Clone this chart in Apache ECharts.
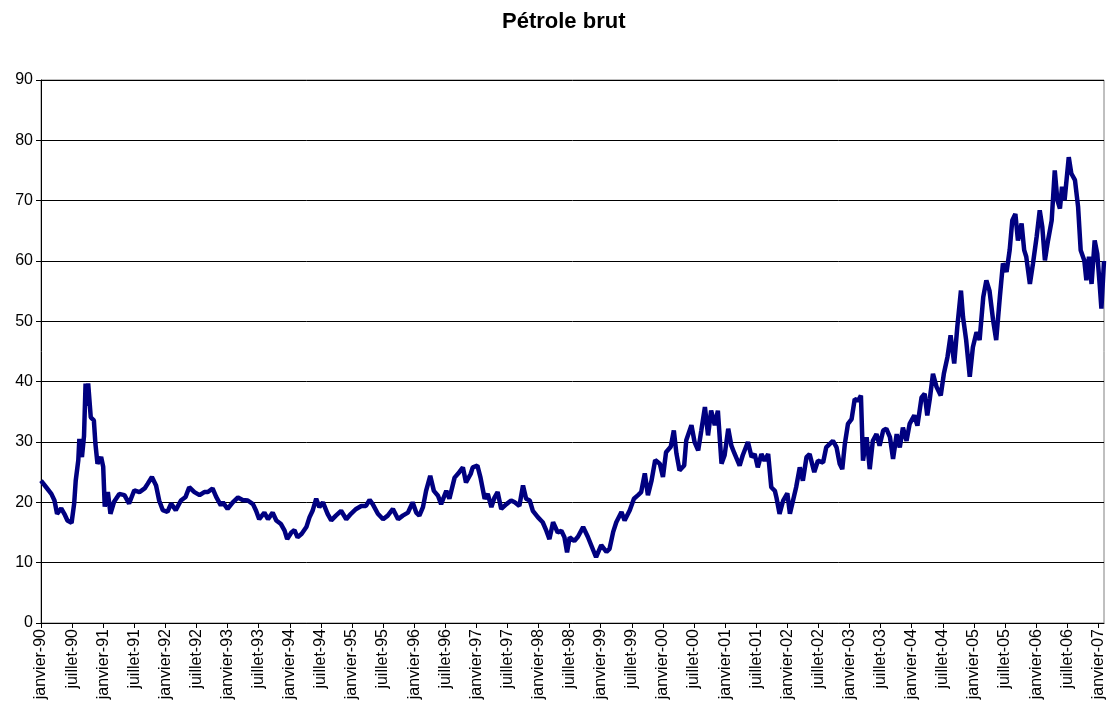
<!DOCTYPE html>
<html>
<head>
<meta charset="utf-8">
<script src="https://cdn.jsdelivr.net/npm/echarts@6/dist/echarts.min.js"></script>
<style>
html, body { margin: 0; padding: 0; background: #fff; }
#chart { width: 1107px; height: 711px; }
</style>
</head>
<body>
<div id="chart"></div>
<script>
// [month since janvier-90, price]
var p1990_92 = [[0,23.6],[1,22.5],[2,21.4],[2.6,20.3],[3.1,18.1],[3.9,19],[4.5,18.1],[5.1,17],[5.9,16.6],[6.4,19.8],[6.7,23.6],[7.2,27],[7.4,30.5],[7.9,27.5],[8.3,31],[8.6,39.7],[8.9,36],[9.1,39.7],[9.6,34.1],[10.2,33.6],[10.5,29.7],[10.9,26.4],[11.6,27.5],[12,25.9],[12.3,19.3],[12.9,21.7],[13.4,18.1],[14.1,20.1],[15.1,21.4],[16.1,21.2],[17,19.8],[18,22],[19,21.7],[20,22.3],[20.6,23.1],[21.4,24.2],[22.2,22.8],[22.8,20.3],[23.5,18.7],[24.4,18.4],[25.1,19.8],[26,18.7],[27,20.3],[27.9,20.9],[28.6,22.5],[29.6,21.7],[30.6,21.2],[31.5,21.7],[32.2,21.7],[33.1,22.3],[33.8,20.9],[34.7,19.5]];
var p1993_95 = [[35.1,20],[36,18.9],[37,20],[38,20.8],[38.9,20.4],[39.9,20.3],[40.9,19.7],[41.5,18.6],[42.1,17.2],[43.1,18.3],[43.8,17.2],[44.7,18.3],[45.4,17],[46.3,16.4],[47,15.3],[47.5,13.9],[48.3,15],[48.9,15.4],[49.5,14.2],[50.3,14.8],[51.2,15.9],[51.8,17.5],[52.4,18.6],[53.1,20.6],[53.7,19.2],[54.4,20],[55.3,18.1],[56,17],[56.9,17.8],[57.9,18.6],[58.9,17.2],[59.8,18.1],[60.8,18.9],[61.8,19.4],[62.7,19.4],[63.4,20.4],[64,19.7],[65,18.1],[66,17.2],[66.9,17.8],[67.9,18.9],[68.9,17.2],[69.8,17.8]];
var p1996_98 = [[70.8,18.3],[71.7,20],[72.4,18.3],[73,17.8],[73.7,19.2],[74.3,21.9],[75.1,24.4],[75.8,21.9],[76.6,21.1],[77.2,19.7],[78.2,21.9],[78.8,20.6],[79.8,24.1],[80.7,25],[81.4,25.8],[82,23.3],[82.9,24.7],[83.3,25.8],[84.2,26.1],[84.8,24.1],[85.6,20.6],[86.2,21.4],[86.9,19.2],[87.5,20.8],[88.1,21.7],[88.8,18.9],[89.8,19.7],[90.7,20.3],[91.4,20],[92.3,19.4],[93,22.8],[93.6,20.6],[94.3,20.3],[94.9,18.6],[95.9,17.5],[96.8,16.7],[97.5,15.3],[98.1,13.9],[98.8,16.7],[99.7,15],[100.4,15.3],[101,14.2],[101.5,11.7],[102,14.2],[102.9,13.6]];
var p1999_01 = [[103.6,14.3],[104.6,15.9],[105.5,14.3],[106.3,12.6],[107.1,10.9],[108.1,12.9],[109.1,11.8],[109.7,12.3],[110.4,15.1],[111,16.7],[112,18.4],[112.6,17],[113.6,18.7],[114.4,20.6],[115.2,21.2],[115.8,21.7],[116.5,24.8],[117.1,21.2],[117.8,23.6],[118.5,27],[119.4,26.4],[120,24.2],[120.6,28.3],[121.5,29.2],[122.1,31.9],[122.6,28.1],[123.2,25.3],[124.1,26.1],[124.5,30.3],[125.5,32.8],[126.1,30],[126.8,28.6],[127.4,31.9],[128.1,35.8],[128.7,31.1],[129.3,35.2],[130,32.8],[130.6,35.2],[131.3,26.4],[131.9,27.8],[132.6,32.2],[133.2,29.4],[133.8,28.1],[134.8,26.1],[135.4,27.8],[136.4,30],[137.1,27.5]];
var p2002_04 = [[137.7,28],[138.3,25.8],[139,28],[139.6,26.9],[140.3,28],[140.9,22.5],[141.6,21.9],[141.9,20.8],[142.5,18.1],[143.2,20.3],[144,21.5],[144.5,18.1],[145.1,20.3],[145.7,22.5],[146.4,25.8],[147,23.6],[147.7,27.5],[148.3,28],[149.2,25],[149.9,26.9],[150.9,26.6],[151.5,29.1],[152.2,29.7],[152.8,30.2],[153.5,29.1],[154.1,26.4],[154.6,25.5],[155.1,29.7],[155.7,33],[156.4,33.8],[157,37.1],[157.7,36.9],[158.2,37.7],[158.6,26.9],[159.3,30.8],[159.9,25.5],[160.5,30.2],[161.2,31.3],[161.8,29.4],[162.5,31.9],[163.1,32.2],[163.8,30.8],[164.4,27.2],[165.1,31.3],[165.7,29.1],[166.3,32.4],[167,30.2],[167.6,33],[168.5,34.4],[169.1,32.7],[169.9,37.4],[170.5,38]];
var p2004_07 = [[171,34.4],[171.5,37.2],[172.1,41.3],[172.8,39.1],[173.6,37.7],[174.2,41.3],[174.9,44.1],[175.5,47.7],[176.2,43],[176.8,49.1],[177.5,55.1],[177.9,50.7],[178.5,46.9],[179.2,40.8],[179.8,45.7],[180.5,48.2],[181.1,46.9],[181.8,54],[182.4,56.8],[183,55.1],[183.7,50.2],[184.3,46.9],[185,54],[185.6,59.6],[186.3,58.2],[186.9,61.8],[187.4,66.7],[188,67.8],[188.5,63.4],[189.2,66.2],[189.7,61.8],[190.1,60.7],[190.8,56.2],[191.4,59.6],[192.1,64],[192.7,68.4],[193.2,65.6],[193.7,60.1],[194.3,63.4],[195,66.7],[195.6,75],[196.1,70.1],[196.6,68.7],[197,72.3],[197.5,70.1],[198.3,77.2],[198.8,74.5],[199.5,73.4],[200.1,69],[200.6,61.8],[201.3,60.1],[201.7,56.8],[202.2,60.7],[202.7,56.2],[203.3,63.4],[203.8,61.2],[204.3,55.7],[204.6,52.1],[205.1,60]];

var tickLabels = ['janvier-90','juillet-90','janvier-91','juillet-91','janvier-92','juillet-92',
  'janvier-93','juillet-93','janvier-94','juillet-94','janvier-95','juillet-95',
  'janvier-96','juillet-96','janvier-97','juillet-97','janvier-98','juillet-98',
  'janvier-99','juillet-99','janvier-00','juillet-00','janvier-01','juillet-01',
  'janvier-02','juillet-02','janvier-03','juillet-03','janvier-04','juillet-04',
  'janvier-05','juillet-05','janvier-06','juillet-06','janvier-07'];
var tickPos = tickLabels.map(function (s, i) { return i * 6; });

var data = [].concat(p1990_92, p1993_95, p1996_98, p1999_01, p2002_04, p2004_07);

var myChart = echarts.init(document.getElementById('chart'));
var option = {
    animation: false,
    backgroundColor: '#fff',
    textStyle: { fontFamily: 'Liberation Sans, Arial, sans-serif' },
    title: {
        text: 'Pétrole brut',
        left: 497,
        top: 6,
        textStyle: { fontSize: 22, fontWeight: 'bold', color: '#000', fontFamily: 'Liberation Sans, Arial, sans-serif' }
    },
    grid: {
        left: 41, right: 3, top: 80, bottom: 88,
        show: true, borderColor: '#808080', borderWidth: 1
    },
    xAxis: {
        type: 'value',
        min: 0,
        max: 205.1,
        splitLine: { show: false },
        axisLine: { lineStyle: { color: '#000', width: 1 } },
        axisTick: { customValues: tickPos, length: 5, lineStyle: { color: '#000' } },
        axisLabel: {
            customValues: tickPos,
            rotate: 90,
            margin: 6,
            fontSize: 16,
            color: '#000',
            formatter: function (v) { return tickLabels[Math.round(v / 6)]; }
        }
    },
    yAxis: {
        type: 'value',
        min: 0,
        max: 90,
        interval: 10,
        axisLine: { show: true, lineStyle: { color: '#000', width: 1 } },
        axisTick: { show: true, length: 5, lineStyle: { color: '#000' } },
        axisLabel: { fontSize: 16, color: '#000', margin: 8 },
        splitLine: { lineStyle: { color: '#000', width: 1 } }
    },
    series: [{
        type: 'line',
        data: data,
        showSymbol: false,
        lineStyle: { color: '#000080', width: 4.5 },
        itemStyle: { color: '#000080' }
    }]
};
myChart.setOption(option);
</script>
</body>
</html>
